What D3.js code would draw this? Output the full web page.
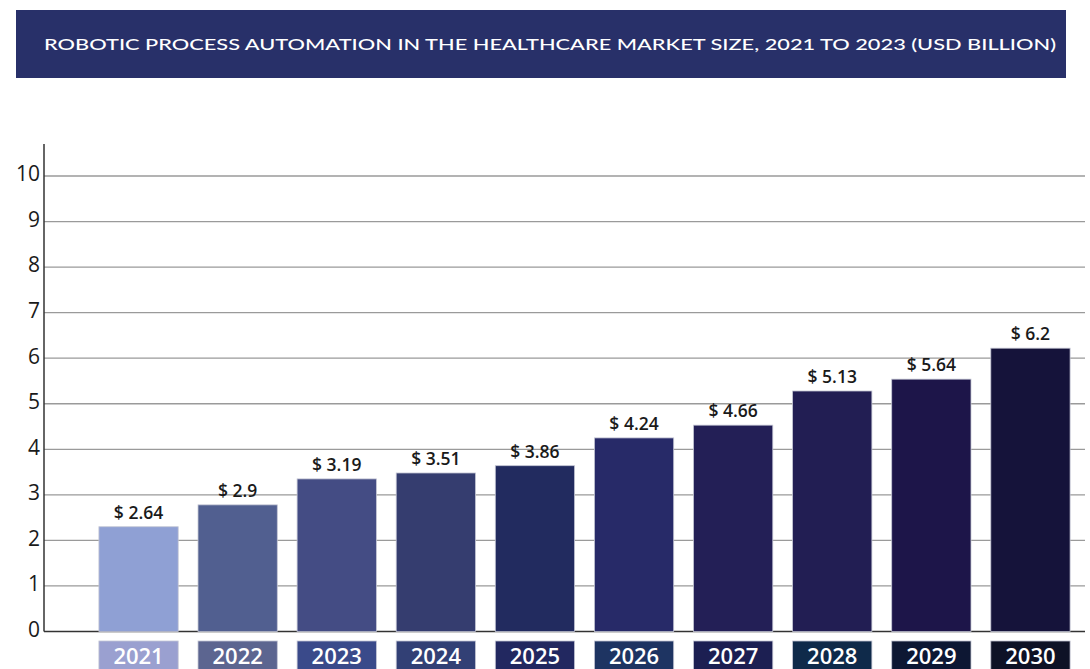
<!DOCTYPE html>
<html>
<head>
<meta charset="utf-8">
<script src="https://cdn.jsdelivr.net/npm/d3@7"></script>
<style>
  body { margin: 0; background: #fff; }
  svg { display: block; font-family: "Open Sans", Lato, sans-serif; }
</style>
</head>
<body>
<svg id="chart" width="1090" height="669"></svg>
<script>
// values
const years = ["2021", "2022", "2023", "2024", "2025", "2026", "2027", "2028", "2029", "2030"];
const barValues = [2.30, 2.78, 3.35, 3.48, 3.64, 4.25, 4.53, 5.28, 5.54, 6.22];
const valueLabels = ["$ 2.64", "$ 2.9", "$ 3.19", "$ 3.51", "$ 3.86", "$ 4.24", "$ 4.66", "$ 5.13", "$ 5.64", "$ 6.2"];
const yTicks = [0, 1, 2, 3, 4, 5, 6, 7, 8, 9, 10];
const barColors = ["#8fa0d4", "#515f90", "#444c84", "#353d6f", "#222b5f", "#272a68", "#231f56", "#221e53", "#1d1549", "#15133a"];
const boxColors = ["#9aa0d0", "#5c6590", "#3a4a8a", "#324075", "#222860", "#1e3462", "#1c1f52", "#0f2a4a", "#0d1733", "#0e1226"];
const title = "ROBOTIC PROCESS AUTOMATION IN THE HEALTHCARE MARKET SIZE, 2021 TO 2023 (USD BILLION)";

const svg = d3.select("#chart");

// title banner
svg.append("rect")
    .attr("x", 16).attr("y", 10)
    .attr("width", 1050).attr("height", 68)
    .attr("fill", "#283069");

svg.append("text")
    .attr("x", 550).attr("y", 50)
    .attr("text-anchor", "middle")
    .attr("fill", "#fff")
    .attr("font-family", "Lato, 'Open Sans', sans-serif")
    .attr("font-size", 16)
    .attr("font-weight", 500)
    .attr("textLength", 1012)
    .attr("lengthAdjust", "spacingAndGlyphs")
    .text(title);

const x = d3.scaleBand()
    .domain(years)
    .range([89, 1080])
    .paddingInner(0.2)
    .paddingOuter(0.1);

const y = d3.scaleLinear()
    .domain([0, 10])
    .range([631.5, 176]);

const axisLeft = 44;
const gridRight = 1085;

// gridlines
svg.append("g")
    .selectAll("line")
    .data(yTicks.filter(d => d > 0))
    .join("line")
    .attr("x1", axisLeft).attr("x2", gridRight)
    .attr("y1", d => y(d)).attr("y2", d => y(d))
    .attr("stroke", "#9a9a9a")
    .attr("stroke-width", 1.3);

// y axis line + baseline + labels
svg.append("line")
    .attr("x1", axisLeft).attr("x2", axisLeft)
    .attr("y1", 144).attr("y2", y(0))
    .attr("stroke", "#333")
    .attr("stroke-width", 1.5);

svg.append("line")
    .attr("x1", axisLeft).attr("x2", gridRight)
    .attr("y1", y(0)).attr("y2", y(0))
    .attr("stroke", "#333")
    .attr("stroke-width", 1.5);

svg.append("g")
    .selectAll("text")
    .data(yTicks)
    .join("text")
    .attr("x", 40)
    .attr("y", d => y(d) - 2)
    .attr("dy", "0.35em")
    .attr("text-anchor", "end")
    .attr("fill", "#1a1a1a")
    .attr("font-size", 21)
    .text(d => d);

// bars
svg.append("g")
    .selectAll("rect")
    .data(years)
    .join("rect")
    .attr("x", d => x(d))
    .attr("y", (d, i) => y(barValues[i]))
    .attr("width", x.bandwidth())
    .attr("height", (d, i) => y(0) - y(barValues[i]))
    .attr("fill", (d, i) => barColors[i])
    .attr("stroke", "#c4c6d4")
    .attr("stroke-width", 0.8);

// value labels
svg.append("g")
    .selectAll("text")
    .data(years)
    .join("text")
    .attr("x", d => x(d) + x.bandwidth() / 2)
    .attr("y", (d, i) => y(barValues[i]) - 8)
    .attr("text-anchor", "middle")
    .attr("fill", "#1a1a1a")
    .attr("font-size", 17.5)
    .attr("font-weight", 600)
    .text((d, i) => valueLabels[i]);

// year boxes (cut by the bottom edge as in the source)
const boxes = svg.append("g")
    .selectAll("g")
    .data(years)
    .join("g")
    .attr("transform", d => `translate(${x(d)},641)`);

boxes.append("rect")
    .attr("width", x.bandwidth())
    .attr("height", 40)
    .attr("fill", (d, i) => boxColors[i])
    .attr("stroke", "#c4c6d4")
    .attr("stroke-width", 0.8);

boxes.append("text")
    .attr("x", x.bandwidth() / 2)
    .attr("y", 23)
    .attr("text-anchor", "middle")
    .attr("fill", "#fff")
    .attr("font-size", 22)
    .attr("font-weight", 600)
    .text(d => d);
</script>
</body>
</html>
